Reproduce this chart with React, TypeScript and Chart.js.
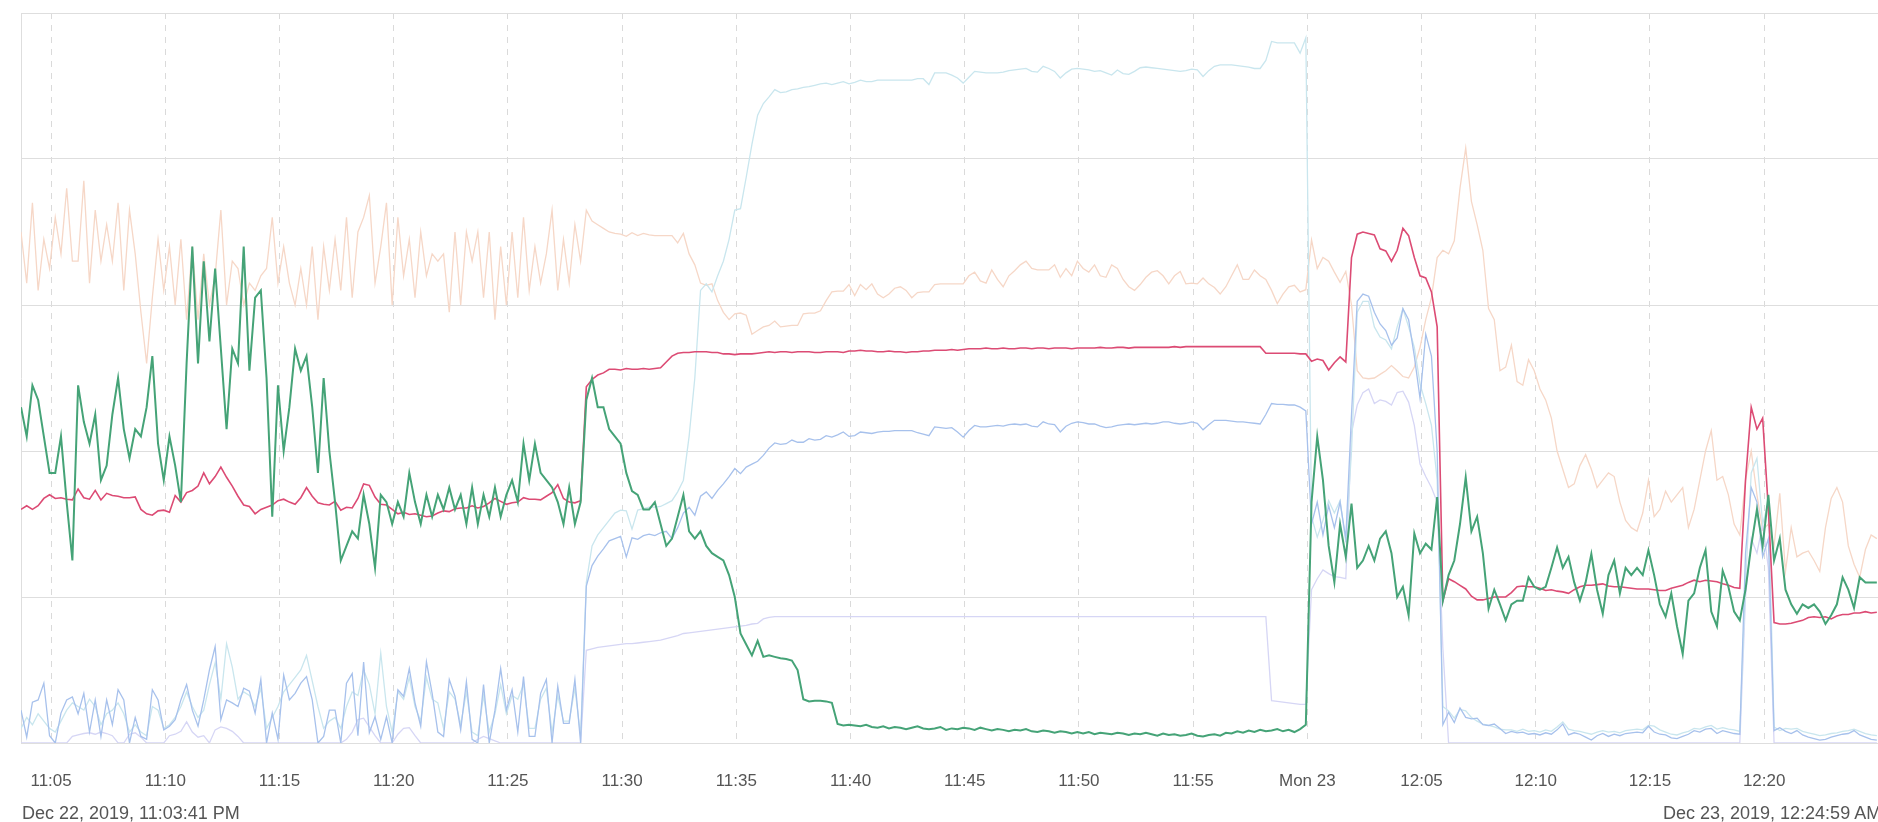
import React, { useEffect, useRef } from "react";
import { Chart, registerables } from "chart.js";

Chart.register(...registerables);

// time axis: minutes after 23:00 on Dec 22, 2019; one sample every 15 s from 11:03:41 PM
const START_MIN = 3 + 41 / 60; // 11:03:41 PM
const END_MIN = 84 + 59 / 60; // 12:24:59 AM
const SAMPLE_STEP = 0.25;

const tickValues = [5, 10, 15, 20, 25, 30, 35, 40, 45, 50, 55, 60, 65, 70, 75, 80];
const tickLabels = ["11:05", "11:10", "11:15", "11:20", "11:25", "11:30", "11:35", "11:40", "11:45", "11:50", "11:55", "Mon 23", "12:05", "12:10", "12:15", "12:20"];
const startLabel = "Dec 22, 2019, 11:03:41 PM";
const endLabel = "Dec 23, 2019, 12:24:59 AM";

const greenValues = [
  46, 42, 49, 47, 42, 37,
  37, 42, 33, 25, 49, 44, 41, 45, 36, 38, 45, 50, 43, 39, 43, 42, 46, 53, 41, 36,
  42, 38, 33, 52, 68, 52, 66, 55, 65, 54, 43, 54, 52, 68, 51, 61, 62, 50, 31, 49,
  40, 46, 54, 51, 53, 46, 37, 50, 40, 33, 25, 27, 29, 28, 34, 30, 24, 34, 33, 30,
  33, 31, 37, 33, 30, 34, 31, 34, 32, 35, 32, 34, 30, 35, 30, 34, 31, 35, 31, 34,
  36, 33, 41, 36, 41, 37, 36, 35, 33, 30, 35, 30, 33, 47, 50, 46, 46, 43, 42, 41,
  37, 34.5, 34, 32, 32, 33, 30, 27, 28, 31, 34, 29, 28, 29, 27, 26, 25.5, 25, 23, 20,
  15, 13.5, 12, 14, 11.8, 12, 11.8, 11.6, 11.5, 11.3, 10, 6, 5.7, 5.8, 5.8, 5.7, 5.5, 2.6, 2.4, 2.5,
  2.4, 2.3, 2.5, 2.2, 2.1, 2.3, 2.0, 2.2, 2.1, 1.9, 2.1, 2.3, 2.0, 1.9, 2.0, 2.2, 1.8, 2.0, 1.9, 2.1,
  2.0, 1.8, 2.1, 1.9, 1.7, 1.9, 1.8, 1.6, 1.8, 1.7, 1.9, 1.6, 1.5, 1.7, 1.6, 1.4, 1.6, 1.5, 1.3, 1.5,
  1.3, 1.5, 1.2, 1.4, 1.3, 1.2, 1.4, 1.3, 1.1, 1.3, 1.2, 1.4, 1.2, 1.0, 1.3, 1.1, 1.2, 1.0, 1.1, 1.3,
  1.0, 0.9, 1.1, 1.2, 1.0, 1.4, 1.3, 1.6, 1.4, 1.7, 1.5, 1.8, 1.6, 1.7, 1.9, 1.6, 1.8, 1.5, 1.9, 2.5,
  33, 42, 36, 27, 22, 30, 25.5, 32.8, 24, 25, 27, 25, 28, 29, 26, 20, 21.4, 17.5, 28.7, 26,
  27.3, 26.5, 33.7, 19.5, 23, 25, 30, 36.4, 29, 31, 26, 18.4, 21, 19, 16.8, 19, 19.5, 19.5, 22.7, 21.4,
  21, 21.4, 24, 26.8, 24, 25.5, 22, 19.5, 22, 25.9, 21, 17.7, 23, 25, 20.5, 24, 23, 24, 23, 26.4,
  23, 19, 17.3, 20.5, 16, 12.2, 19.5, 20.5, 24, 26.4, 18, 16, 23.6, 21.4, 18, 16.8, 21, 27, 32, 27,
  34, 25, 28, 21, 19, 17.7, 19, 18.5, 19, 18, 16.3, 17.5, 19, 22.7, 21, 18.5, 22.7, 22, 22, 22,
];

const redValues = [
  32, 32.5, 32, 32.5, 33.5, 34,
  33.5, 33.6, 33.4, 33.3, 34.8, 33.6, 33.4, 34.6, 33.3, 34.2, 33.9, 33.8, 33.6, 33.6, 33.7, 32, 31.4, 31.2, 31.8, 31.9,
  31.6, 33.9, 33, 34.3, 34.6, 35.2, 37, 35.5, 36.5, 37.8, 36.4, 35.2, 33.8, 32.6, 32.4, 31.4, 32, 32.3, 32.6, 33.2,
  33.4, 33, 32.7, 33.6, 35, 33.8, 32.9, 32.7, 32.6, 33.1, 31.9, 32.3, 32.2, 33.5, 35.5, 35.3, 33.7, 32.7, 32.6, 32,
  31.4, 31.6, 31.3, 31.4, 31.2, 31, 31.1, 31.5, 31.8, 31.7, 32.1, 32.2, 32.2, 32.5, 32.2, 32.4, 32.9, 33.5, 33.1, 32.7,
  32.9, 33, 33.6, 33.4, 33.4, 33.3, 33.8, 34.3, 35.4, 33.5, 33, 32.9, 33.2, 48.8, 49.8, 50.4, 50.7, 51.2, 51.2, 51.1,
  51.3, 51.2, 51.2, 51.3, 51.2, 51.3, 51.4, 52.2, 53, 53.4, 53.5, 53.5, 53.6, 53.6, 53.6, 53.5, 53.5, 53.3, 53.3, 53.2,
  53.3, 53.3, 53.3, 53.4, 53.5, 53.6, 53.5, 53.6, 53.6, 53.5, 53.6, 53.6, 53.6, 53.5, 53.5, 53.6, 53.6, 53.6, 53.5, 53.7,
  53.7, 53.8, 53.7, 53.7, 53.6, 53.6, 53.7, 53.6, 53.6, 53.5, 53.6, 53.6, 53.7, 53.7, 53.8, 53.8, 53.8, 53.9, 53.8, 53.9,
  54, 54, 54, 54.1, 54, 54, 54.1, 54, 54, 54.1, 54.1, 54, 54.1, 54.1, 54, 54.1, 54.1, 54.1, 54, 54.1,
  54.1, 54.1, 54.1, 54.2, 54.1, 54.1, 54.2, 54.2, 54.1, 54.2, 54.2, 54.2, 54.2, 54.2, 54.2, 54.2, 54.3, 54.2, 54.3, 54.3,
  54.3, 54.3, 54.3, 54.3, 54.3, 54.3, 54.3, 54.3, 54.3, 54.3, 54.3, 54.3, 53.4, 53.4, 53.4, 53.4, 53.4, 53.4, 53.3, 53.3,
  52.3, 52.6, 52.4, 51.1, 52.1, 52.9, 52.2, 66.5, 69.7, 70, 69.8, 69.6, 67.7, 67.4, 66, 67.5, 70.5, 69.5, 66.5, 64,
  63.7, 61.8, 57, 19.5, 22.5, 22.1, 21.6, 21.1, 20.1, 19.6, 19.6, 19.8, 20, 20, 20, 20.6, 21.4, 21.5, 21.4, 21.4,
  21.2, 20.9, 21, 20.8, 20.7, 20.5, 21, 21.4, 21.6, 21.6, 21.7, 21.8, 21.5, 21.4, 21.4, 21.3, 21.2, 21.1, 21.1, 21.1,
  21, 20.9, 20.9, 21.2, 21.4, 21.6, 22, 22.3, 22.1, 22.3, 22.2, 22.1, 21.8, 21.6, 21.3, 21.2, 36, 46, 43, 44.5,
  32, 16.5, 16.3, 16.3, 16.4, 16.6, 16.8, 17.2, 17.3, 17.2, 17.3, 17, 17.4, 17.6, 17.6, 17.8, 17.8, 18, 17.8, 17.9,
];

const peachValues = [
  70, 63, 74, 62, 69, 65,
  72, 67, 76, 66, 66, 77, 63, 73, 66, 71, 66, 74, 62, 73, 67, 59, 52, 61, 69, 62,
  68, 60, 69, 58, 68, 58, 67, 60, 64, 73, 60, 66, 65, 60, 63, 62, 64, 65, 72, 63,
  68, 63, 60, 65, 60, 68, 58, 68, 62, 69, 62, 72, 61, 70, 72, 75, 63, 68, 74, 60,
  72, 64, 69, 61, 70, 64, 67, 66, 67, 59, 70, 60, 70, 66, 70, 61, 70, 58, 68, 60,
  70, 61, 72, 62, 68, 63, 67, 73, 62, 69, 63, 71, 66, 73, 71.5, 71, 70.5, 70, 69.8, 69.7,
  69.4, 69.9, 69.5, 69.8, 69.6, 69.5, 69.5, 69.5, 69.5, 68.5, 69.8, 67, 65.5, 63, 62.7, 62.9, 60.6, 59, 58, 58.8,
  58.9, 58.6, 56, 56.5, 57, 57.2, 57.8, 57, 57.1, 57.2, 57.2, 58.8, 58.9, 58.9, 59.2, 60.6, 61.8, 61.9, 61.9, 62.8,
  61.3, 62.8, 62.1, 62.9, 61.5, 61, 61.5, 62.3, 62.5, 62, 61, 61.7, 61.8, 61.8, 62.8, 62.9, 62.9, 62.9, 62.9, 62.9,
  64, 64.5, 63.3, 63, 64.8, 63.5, 62.5, 64, 64.7, 65.5, 66, 65, 64.8, 64.8, 64.8, 65.5, 63.8, 65, 64, 66,
  65, 64.5, 65.5, 64, 63.8, 65.5, 65, 63.5, 62.5, 62, 62.8, 63.8, 64.5, 64.7, 64, 62.9, 64, 64.6, 62.9, 63,
  62.9, 63.7, 62.9, 62.4, 61.5, 62.5, 64, 65.5, 63.5, 63.5, 64.8, 64, 63.5, 62, 60.2, 61.5, 62.5, 62.7, 61.8, 62.1,
  68.9, 65, 66.5, 66, 64.5, 63.1, 64.6, 60, 51, 50, 49.9, 50, 50.5, 51, 51.7, 51, 50.2, 50, 51.5, 54.2,
  58, 61, 66.5, 67.5, 67, 68.8, 76, 81.5, 74.2, 71, 67.5, 59.5, 58, 51, 51.5, 54.5, 49.5, 49, 52.5, 51,
  48.5, 47, 44.5, 40, 37.5, 35, 35.5, 38, 39.5, 37.5, 35, 36, 37, 36.5, 33, 30.5, 29.5, 29, 31.5, 36,
  31, 32, 34.5, 33, 34, 35, 29.5, 32, 36, 40, 42.8, 36, 36.5, 34, 30, 28.5, 36, 40, 34, 29.2,
  30, 27, 34.2, 23.5, 29.5, 25.5, 26, 26.3, 25, 23.5, 29.5, 33.5, 35, 33, 27, 24.5, 22.7, 26.5, 28.5, 28,
];

const blueValues = [
  4.5, 0.8, 5.6, 5.9, 8.2, 1,
  0, 4.1, 5.9, 6.3, 4, 6.8, 1.5, 5.9, 0.9, 5.9, 2.5, 7.3, 5.9, 0, 3.5, 0.9, 0.5, 7.3, 5.9, 1.8,
  2.3, 3.2, 5.9, 8, 4.5, 2.3, 5.9, 10, 13.2, 3.2, 5.9, 5.5, 5, 7.5, 7.1, 4.1, 8.7, 0, 4.1, 0.5,
  9.3, 5.9, 6.8, 8.2, 9.1, 5.9, 0, 0.9, 4.5, 4.5, 0, 8.2, 9.5, 1, 11.1, 1.4, 3.6, 0.5, 3.6, 0,
  7.3, 6.4, 10.2, 5.5, 2.3, 11.1, 6.8, 1.5, 0.9, 8.7, 6.4, 1.8, 8.4, 0.5, 0, 8, 0, 4.5, 10.2, 4.5,
  7.3, 1.5, 9.1, 0.9, 0.9, 6.8, 8.7, 0, 7.8, 2.7, 2.7, 8.7, 0, 21.5, 24.3, 25.6, 26.6, 27.7, 28, 28.3,
  25.5, 28.1, 27.9, 28.4, 28.6, 28.4, 28.8, 29, 28, 29.5, 31.5, 32.3, 31.2, 33.8, 34.4, 33.5, 34.6, 35.5, 36.5, 37.6,
  36.9, 37.8, 38.2, 38.6, 39.4, 40.4, 41.1, 40.9, 41, 41.5, 41.2, 41.2, 41.7, 41.5, 41.6, 42.1, 41.9, 42.2, 42.6, 42,
  42.1, 42.6, 42.5, 42.4, 42.6, 42.7, 42.7, 42.8, 42.8, 42.8, 42.8, 42.5, 42.3, 42.1, 43.3, 43.2, 43.1, 43.2, 42.6, 41.9,
  42.8, 43.5, 43.3, 43.3, 43.4, 43.5, 43.4, 43.6, 43.7, 43.6, 43.7, 43.4, 43.3, 44, 43.7, 43.6, 42.6, 43.4, 43.8, 44,
  43.9, 43.7, 43.7, 43.4, 43.2, 43.3, 43.5, 43.6, 43.7, 43.6, 43.7, 43.8, 43.7, 43.8, 44, 44, 43.8, 43.7, 43.8, 44,
  43.8, 42.9, 43.6, 44.2, 44.2, 44.2, 44.1, 44, 44, 43.9, 43.8, 43.7, 45, 46.5, 46.4, 46.4, 46.3, 46.3, 46, 45.5,
  30, 33, 28.5, 32.5, 29.5, 33, 28, 45, 60.5, 61.5, 61.2, 59, 57.4, 56.5, 54.5, 55.5, 59.5, 58, 53, 47.2,
  56, 53, 40, 2.5, 4.2, 2.8, 4.8, 3.5, 3.3, 3.4, 2.5, 2.4, 2.6, 2, 1.3, 1.6, 1.4, 1.5, 1.2, 1.3,
  1.1, 1.4, 1.2, 1.8, 2.6, 1.1, 1.4, 1.2, 0.8, 0.4, 1, 1.3, 0.9, 1.2, 1, 1.3, 1.4, 1.5, 1.4, 2.3,
  1.5, 1.2, 1.1, 0.7, 0.6, 0.9, 1.2, 1.7, 1.5, 1.9, 2, 1.3, 1.7, 1.5, 1.3, 1.2, 26, 35, 33, 25.5,
  28, 1.7, 2.1, 1.6, 1.3, 1.7, 1.1, 0.8, 0.6, 0.4, 0.5, 0.8, 1, 1.2, 1.3, 1.7, 1.1, 0.8, 0.5, 0.4,
];

const cyanValues = [
  2, 3.5, 2.5, 4, 3, 2,
  1.5, 3, 4.5, 5.5, 5, 4.5, 6, 5, 2.5, 4, 4.5, 5.5, 4, 1.5, 2.5, 1.5, 1, 5, 4.5, 2,
  2.5, 3.5, 5, 7, 5, 3.5, 4.5, 8, 11, 6, 13.6, 10.4, 6, 7, 6.5, 5, 7.5, 2, 3.5, 5,
  7, 8, 9, 10, 12, 8.5, 5, 2, 3, 3.5, 2, 5, 7, 6.5, 10, 8, 4, 12.3, 5, 1.5,
  7, 6, 9, 5, 3, 9, 6, 5.5, 2, 7, 6, 2.5, 7, 1.5, 1, 6.5, 1.5, 4, 8, 4,
  6.5, 6, 8, 2, 2, 6, 7.5, 1.5, 6.5, 3, 3, 7.5, 1, 22, 27, 28.5, 29.5, 30.5, 31.5, 31.9,
  31.8, 29.3, 31.9, 32.1, 32.3, 32.3, 32.4, 32.8, 33.2, 34.4, 36, 42, 50, 62, 62.9, 61.8, 64, 66, 69, 73,
  73.2, 77.5, 82, 86, 87.6, 88.5, 89.5, 89.1, 89.2, 89.5, 89.6, 89.8, 89.9, 90.1, 90.3, 90.4, 90.2, 90.4, 90.6, 90.3,
  90.5, 90.8, 90.6, 90.6, 90.8, 90.8, 90.8, 90.8, 90.8, 90.8, 90.8, 91, 91, 90.2, 91.8, 91.8, 91.8, 91.5, 91.1, 90.4,
  91.2, 92, 91.9, 91.8, 91.8, 91.8, 91.9, 92.1, 92.2, 92.3, 92.4, 92, 91.9, 92.7, 92.4, 92, 91.1, 91.8, 92.3, 92.4,
  92.3, 92.2, 92, 92.1, 91.8, 91.5, 92.2, 91.7, 91.6, 92, 92.5, 92.6, 92.5, 92.4, 92.3, 92.2, 92.1, 92, 92.1, 92.3,
  92.2, 91.3, 92.1, 92.7, 92.9, 92.9, 92.9, 92.8, 92.7, 92.6, 92.4, 92.4, 93.5, 96.1, 95.9, 95.9, 95.9, 95.9, 94.5, 96.6,
  31, 28.2, 30.5, 33.2, 31.5, 33.2, 27.5, 40, 59, 60.5, 60.5, 57, 55.6, 55.2, 54, 57, 59.5, 57, 54.2, 49.2,
  46.5, 43.5, 36, 5, 4.4, 3.4, 4.6, 4.4, 3.5, 3, 2.6, 2.4, 2.2, 1.9, 1.8, 1.8, 1.6, 1.9, 1.6, 1.7,
  1.5, 1.8, 1.6, 2.2, 2.9, 1.9, 1.7, 1.6, 1.4, 1.2, 1.5, 1.7, 1.5, 1.6, 1.4, 1.7, 1.8, 1.9, 1.8, 2.4,
  2.3, 1.8, 1.5, 1.2, 1.1, 1.4, 1.6, 2, 1.9, 2.2, 2.4, 1.9, 2.1, 1.9, 1.8, 1.6, 22, 37, 39, 30,
  33, 2.2, 1.7, 2, 1.9, 2, 1.6, 1.4, 1.2, 1, 1.1, 1.3, 1.4, 1.6, 1.7, 1.9, 1.6, 1.3, 1.1, 1,
];

const lavenderValues = [
  0, 0, 0, 0, 0, 0,
  0, 0, 0, 0.9, 1.1, 1.3, 1.4, 1.2, 1.5, 1.3, 1, 0, 0, 1.2, 1.4, 0.8, 0, 0, 0, 0,
  1, 1.2, 1.6, 2.9, 1.5, 0.8, 1, 0, 1.8, 2.2, 2, 1.6, 0.9, 0, 0, 0, 0, 0, 0, 0,
  0, 0, 0, 0, 0, 0, 0, 0, 0, 0, 0, 0.5, 1.5, 3.2, 3.4, 2.2, 1, 0, 0, 0,
  1.2, 2, 2.1, 1, 0, 0, 0, 0, 0, 0, 0, 0, 0, 0, 0.5, 0.9, 0.6, 0.3, 0, 0,
  0, 0, 0, 0, 0, 0, 0, 0, 0, 0, 0, 0, 0, 12.7, 12.9, 13.1, 13.2, 13.3, 13.4, 13.5,
  13.6, 13.6, 13.7, 13.8, 13.9, 14, 14.1, 14.3, 14.5, 14.7, 15, 15.1, 15.2, 15.3, 15.4, 15.5, 15.6, 15.7, 15.8, 15.9,
  16, 16.1, 16.3, 16.4, 17, 17.2, 17.3, 17.3, 17.3, 17.3, 17.3, 17.3, 17.3, 17.3, 17.3, 17.3, 17.3, 17.3, 17.3, 17.3,
  17.3, 17.3, 17.3, 17.3, 17.3, 17.3, 17.3, 17.3, 17.3, 17.3, 17.3, 17.3, 17.3, 17.3, 17.3, 17.3, 17.3, 17.3, 17.3, 17.3,
  17.3, 17.3, 17.3, 17.3, 17.3, 17.3, 17.3, 17.3, 17.3, 17.3, 17.3, 17.3, 17.3, 17.3, 17.3, 17.3, 17.3, 17.3, 17.3, 17.3,
  17.3, 17.3, 17.3, 17.3, 17.3, 17.3, 17.3, 17.3, 17.3, 17.3, 17.3, 17.3, 17.3, 17.3, 17.3, 17.3, 17.3, 17.3, 17.3, 17.3,
  17.3, 17.3, 17.3, 17.3, 17.3, 17.3, 17.3, 17.3, 17.3, 17.3, 17.3, 17.3, 17.3, 5.8, 5.7, 5.6, 5.5, 5.4, 5.3, 5.3,
  21, 22.5, 23.7, 23.2, 22.8, 22.7, 22.5, 42.5, 46.3, 48, 48.5, 46.5, 47, 46.8, 46.3, 48, 48.2, 46.7, 43.5, 38.2,
  36.5, 35, 33, 13, 0, 0, 0, 0, 0, 0, 0, 0, 0, 0, 0, 0, 0, 0, 0, 0,
  0, 0, 0, 0, 0, 0, 0, 0, 0, 0, 0, 0, 0, 0, 0, 0, 0, 0, 0, 0,
  0, 0, 0, 0, 0, 0, 0, 0, 0, 0, 0, 0, 0, 0, 0, 0, 20, 28, 26, 30,
  24, 0, 0, 0, 0, 0, 0, 0, 0, 0, 0, 0, 0, 0, 0, 0, 0, 0, 0, 0,
];

const FONT = '"Liberation Sans", Arial, Helvetica, sans-serif';

function toPoints(values: number[]) {
  return values.map((v, i) => ({ x: START_MIN + i * SAMPLE_STEP, y: v }));
}

export default function App() {
  const canvasRef = useRef<HTMLCanvasElement | null>(null);

  useEffect(() => {
    const canvas = canvasRef.current;
    if (!canvas) return;
    const mk = (label: string, values: number[], color: string, width: number) => ({
      label,
      data: toPoints(values),
      borderColor: color,
      backgroundColor: color,
      borderWidth: width,
      pointRadius: 0,
      pointHoverRadius: 0,
      tension: 0,
      fill: false,
    });
    const chart = new Chart(canvas, {
      type: "line",
      data: {
        datasets: [
          mk("green", greenValues, "#45a377", 2),
          mk("red", redValues, "#dc4b74", 1.6),
          mk("blue", blueValues, "#a7c1ec", 1.3),
          mk("cyan", cyanValues, "#c9e6ee", 1.3),
          mk("lavender", lavenderValues, "#d6d6f5", 1.3),
          mk("peach", peachValues, "#f6d7c7", 1.3),
        ],
      },
      options: {
        animation: false,
        responsive: false,
        devicePixelRatio: 1,
        events: [],
        layout: { padding: { left: 21, top: 13, right: 0, bottom: 0 } },
        plugins: { legend: { display: false }, tooltip: { enabled: false }, title: { display: false } },
        scales: {
          x: {
            type: "linear",
            min: START_MIN,
            max: END_MIN,
            afterBuildTicks: (scale: any) => {
              scale.ticks = tickValues.map((v) => ({ value: v }));
            },
            afterFit: (scale: any) => {
              scale.height = 79;
            },
            ticks: {
              autoSkip: false,
              maxRotation: 0,
              padding: 28,
              color: "#555",
              font: { family: FONT, size: 17 },
              callback: (_v: any, index: number) => tickLabels[index],
            },
            grid: { color: "#dadada", lineWidth: 1, drawTicks: false },
            border: { display: false, dash: [6, 6] },
          },
          y: {
            min: 0,
            max: 100,
            ticks: { display: false, stepSize: 20 },
            grid: { color: "#dedede", lineWidth: 1, drawTicks: false },
            border: { display: true, color: "#dedede", width: 1 },
          },
        },
      },
    });
    return () => chart.destroy();
  }, []);

  const labelStyle: React.CSSProperties = {
    position: "absolute",
    top: 803,
    font: `18px ${FONT}`,
    color: "#555",
    whiteSpace: "nowrap",
  };

  return (
    <div style={{ position: "fixed", left: 0, top: 0, width: 1878, height: 822, overflow: "hidden", background: "#fff" }}>
      <canvas ref={canvasRef} width={1878} height={822} style={{ position: "absolute", left: 0, top: 0, width: 1878, height: 822 }} />
      <div style={{ ...labelStyle, left: 22 }}>{startLabel}</div>
      <div style={{ ...labelStyle, left: 1663 }}>{endLabel}</div>
    </div>
  );
}
